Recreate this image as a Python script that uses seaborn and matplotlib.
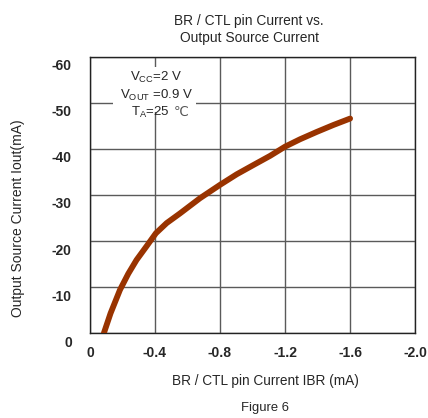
import pandas as pd
import matplotlib.pyplot as plt
import matplotlib.transforms as mtransforms
from matplotlib.patches import Rectangle
import seaborn as sns

# (both currents are negative, axes run 0 -> negative)
ibr = [-0.086, -0.127, -0.185, -0.236, -0.287, -0.349, -0.406, -0.472, -0.554,
       -0.677, -0.800, -0.903, -1.005, -1.108, -1.200, -1.292, -1.395, -1.497, -1.600]
iout = [0.0, -4.3, -9.4, -12.9, -15.9, -18.9, -21.7, -23.9, -26.0,
        -29.3, -32.2, -34.5, -36.5, -38.5, -40.5, -42.1, -43.7, -45.2, -46.6]
x_ticks = [0, -0.4, -0.8, -1.2, -1.6, -2.0]
x_labels = ["0", "-0.4", "-0.8", "-1.2", "-1.6", "-2.0"]
y_ticks = [0, -10, -20, -30, -40, -50, -60]
y_labels = ["0", "-10", "-20", "-30", "-40", "-50", "-60"]

data = pd.DataFrame({"ibr": ibr, "iout": iout})

sns.set_style("white")
plt.rcParams["font.family"] = ["Liberation Sans", "DejaVu Sans"]

fig, ax = plt.subplots(figsize=(4.28, 4.18), dpi=100)
fig.subplots_adjust(left=0.210, right=0.970, top=0.864, bottom=0.203)

sns.lineplot(data=data, x="ibr", y="iout", ax=ax, sort=False,
             color="#993300", linewidth=4.2, solid_capstyle="round",
             solid_joinstyle="round", zorder=5)

ax.set_xlim(0, -2.0)
ax.set_ylim(0, -60)
ax.set_xticks(x_ticks)
ax.set_xticklabels(x_labels, fontsize=10, fontweight="bold")
ax.set_yticks(y_ticks)
ax.set_yticklabels(y_labels, fontsize=10, fontweight="bold")
ax.tick_params(length=0, pad=9)
ax.tick_params(axis="y", pad=13)
ax.grid(True, color="#5a5a5a", linewidth=1.0)
for s in ax.spines.values():
    s.set_color("#222222")
    s.set_linewidth(1.0)

# y tick labels sit a bit below their grid lines in the original
shift = mtransforms.ScaledTranslation(0, -8 / 100, fig.dpi_scale_trans)
for lab in ax.get_yticklabels():
    lab.set_transform(lab.get_transform() + shift)

ax.set_xlabel("")
ax.set_ylabel("")

# condition box
ax.add_patch(Rectangle((0.07, 0.80), 0.255, 0.165, transform=ax.transAxes,
                       facecolor="white", edgecolor="none", zorder=3))
ax.text(0.205, 0.925, r"V$_{\mathregular{CC}}$=2 V", transform=ax.transAxes,
        ha="center", va="center", fontsize=9.5, zorder=4)
ax.text(0.205, 0.862, r"V$_{\mathregular{OUT}}$ =0.9 V", transform=ax.transAxes,
        ha="center", va="center", fontsize=9.5, zorder=4)
ta = ax.text(0.185, 0.797, r"T$_{\mathregular{A}}$=25", transform=ax.transAxes,
             ha="center", va="center", fontsize=9.5, zorder=4)
ax.annotate("℃", xy=(1, 0.5), xycoords=ta, xytext=(3, 0), textcoords="offset points",
            ha="left", va="center", fontsize=9.5, color="#555555",
            family=["DejaVu Sans"], zorder=4)

fig.text(249 / 428, 1 - 21 / 418, "BR / CTL pin Current vs.", ha="center", va="center", fontsize=9.9)
fig.text(249 / 428, 1 - 38 / 418, "Output Source Current", ha="center", va="center", fontsize=9.9)
fig.text(265 / 428, 1 - 381 / 418, "BR / CTL pin Current IBR (mA)", ha="center", va="center", fontsize=9.8)
fig.text(265 / 428, 1 - 408 / 418, "Figure 6", ha="center", va="center", fontsize=9.4)
fig.text(18 / 428, 1 - 218 / 418, "Output Source Current Iout(mA)", ha="center", va="center",
         rotation=90, fontsize=10)

fig.savefig("out.png", dpi=100)
